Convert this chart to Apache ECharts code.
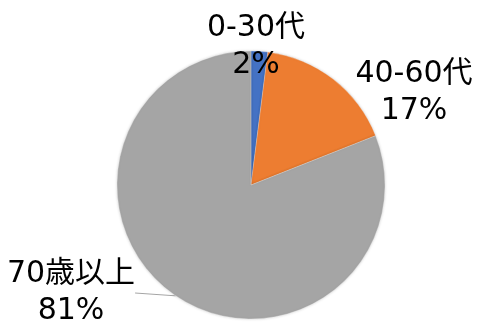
<!DOCTYPE html>
<html>
<head>
<meta charset="utf-8">
<script src="https://cdn.jsdelivr.net/npm/echarts@6/dist/echarts.min.js"></script>
<style>
  html, body { margin: 0; padding: 0; background: #fff; }
  #chart { width: 480px; height: 324px; }
</style>
</head>
<body>
<div id="chart"></div>
<script>
// 年代別の割合
const categories = ['0-30代', '40-60代', '70歳以上']
const values = [2, 17, 81]
const colors = ['#4472C4', '#ED7D31', '#A5A5A5']

// ラベルの配置 (中心座標)
const labelAnchors = [[256, 47], [414, 93], [71, 293]]

const echart = echarts.init(document.getElementById('chart'))

const option = {
  animation: false,
  series: [
    {
      type: 'pie',
      center: [251, 185],
      radius: 134,
      startAngle: 90,
      clockwise: true,
      data: categories.map((name, i) => ({
        name: name,
        value: values[i],
        itemStyle: { color: colors[i] },
        labelLine: { show: i === 2 }
      })),
      itemStyle: {
        borderColor: 'rgba(255,255,255,0.5)',
        borderWidth: 0.5,
        shadowBlur: 3,
        shadowColor: 'rgba(0,0,0,0.2)'
      },
      label: {
        show: true,
        position: 'outside',
        overflow: 'none',
        formatter: p => p.name + '\n' + p.value + '%',
        color: '#000',
        fontSize: 30,
        lineHeight: 37,
        fontFamily: '"DejaVu Sans", "Noto Sans CJK JP"',
        align: 'center'
      },
      labelLine: {
        length: 10,
        length2: 0,
        lineStyle: { color: '#A5A5A5', width: 1 }
      },
      labelLayout: params => {
        const a = labelAnchors[params.dataIndex]
        return {
          x: a[0],
          y: a[1],
          align: 'center',
          verticalAlign: 'middle'
        }
      }
    }
  ]
}

option && echart.setOption(option)
</script>
</body>
</html>
